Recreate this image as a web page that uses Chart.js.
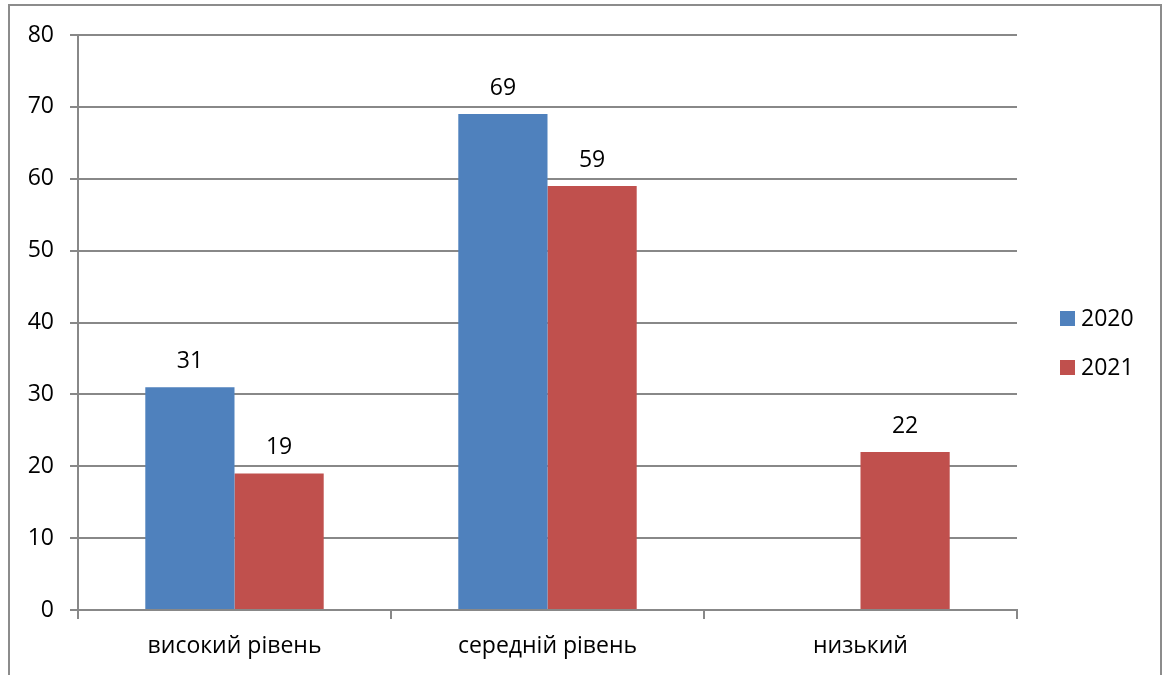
<!DOCTYPE html>
<html>
<head>
<meta charset="utf-8">
<script src="https://cdn.jsdelivr.net/npm/chart.js@4"></script>
<style>
  html, body { margin: 0; padding: 0; background: #fff; }
  #wrap { width: 1168px; height: 675px; position: relative; }
</style>
</head>
<body>
<div id="wrap"><canvas id="chart" width="1168" height="675"></canvas></div>
<script>
const categories = ['високий рівень', 'середній рівень', 'низький'];
const seriesNames = ['2020', '2021'];
const values2020 = [31, 69, null];
const values2021 = [19, 59, 22];
const yTicks = [0, 10, 20, 30, 40, 50, 60, 70, 80];

const FONT = '"Open Sans", "Noto Sans", sans-serif';
const FSIZE = 23;
const gridColor = '#888888';

// outer frame + value labels + legend
const decor = {
    id: 'decor',
    afterDraw(chart) {
        const ctx = chart.ctx;
        ctx.save();
        ctx.strokeStyle = '#8c8c8c';
        ctx.lineWidth = 2;
        ctx.strokeRect(9, 5, 1152, 680);

        // value labels
        ctx.fillStyle = '#000';
        ctx.font = FSIZE + 'px ' + FONT;
        ctx.textAlign = 'center';
        ctx.textBaseline = 'alphabetic';
        chart.data.datasets.forEach((ds, i) => {
            const meta = chart.getDatasetMeta(i);
            meta.data.forEach((bar, j) => {
                if (ds.data[j] == null) return;
                ctx.fillText(String(ds.data[j]), bar.x, bar.y - 19);
            });
        });

        // legend
        const lx = 1060, ys = [318, 367];
        chart.data.datasets.forEach((ds, i) => {
            ctx.fillStyle = ds.backgroundColor;
            ctx.fillRect(lx, ys[i] - 7, 15, 15);
            ctx.fillStyle = '#000';
            ctx.textAlign = 'left';
            ctx.textBaseline = 'middle';
            ctx.font = FSIZE + 'px ' + FONT;
            ctx.fillText(ds.label, lx + 21, ys[i] + 1);
        });
        ctx.restore();
    }
};

new Chart(document.getElementById('chart'), {
    type: 'bar',
    data: {
        labels: categories,
        datasets: [
            { label: seriesNames[0], data: values2020, backgroundColor: '#4f81bd' },
            { label: seriesNames[1], data: values2021, backgroundColor: '#c0504d' }
        ]
    },
    options: {
        responsive: false,
        animation: false,
        devicePixelRatio: 1,
        layout: { padding: { top: 35, right: 151, left: 0, bottom: 0 } },
        plugins: {
            legend: { display: false },
            tooltip: { enabled: false }
        },
        datasets: {
            bar: { categoryPercentage: 0.57, barPercentage: 1.0 }
        },
        scales: {
            x: {
                offset: true,
                grid: {
                    offset: true,
                    drawOnChartArea: false,
                    drawTicks: true,
                    tickLength: 9,
                    color: gridColor,
                    lineWidth: 2
                },
                border: { color: gridColor, width: 2 },
                ticks: {
                    color: '#000',
                    font: { family: FONT, size: FSIZE },
                    padding: 14
                },
                afterFit(scale) { scale.height = 65; }
            },
            y: {
                min: 0,
                max: 80,
                afterBuildTicks(scale) { scale.ticks = yTicks.map(v => ({ value: v })); },
                grid: {
                    color: gridColor,
                    lineWidth: 2,
                    tickLength: 8
                },
                border: { color: gridColor, width: 2 },
                ticks: {
                    color: '#000',
                    font: { family: FONT, size: FSIZE },
                    padding: 16
                },
                afterFit(scale) { scale.width = 78; }
            }
        }
    },
    plugins: [decor]
});
</script>
</body>
</html>
